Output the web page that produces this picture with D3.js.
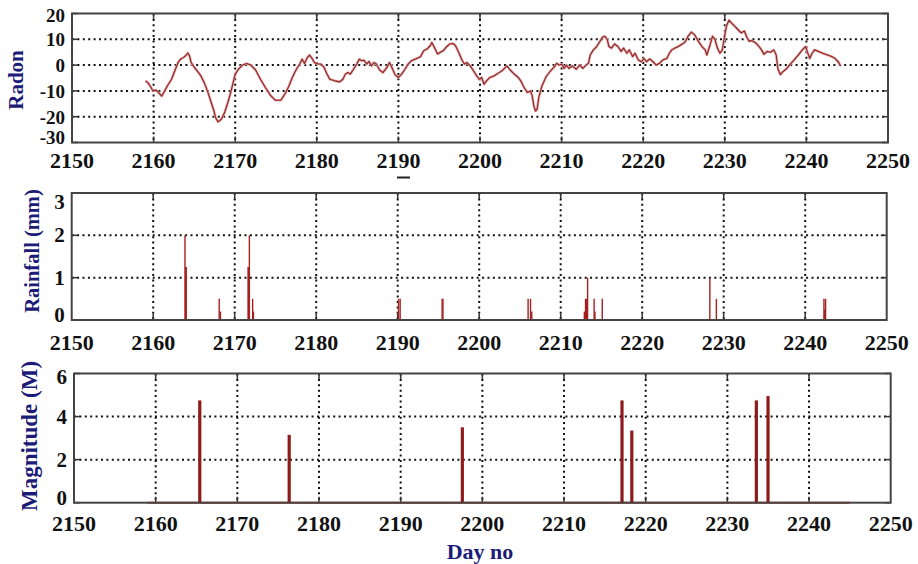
<!DOCTYPE html>
<html><head><meta charset="utf-8">
<script src="https://cdn.jsdelivr.net/npm/d3@7"></script>
<style>html,body{margin:0;padding:0;background:#fff;}svg{display:block;}</style>
</head><body>
<svg id="chart" width="918" height="564"></svg>
<script>
// ---------- DATA ----------
const xTicks = [2150, 2160, 2170, 2180, 2190, 2200, 2210, 2220, 2230, 2240, 2250];
const radonTicks = [20, 10, 0, -10, -20, -30];
const rainTicks = [0, 1, 2, 3];
const magTicks = [0, 2, 4, 6];

const radonDays = [2159.0,2159.3,2159.7,2159.9,2160.3,2160.7,2161.0,2161.3,2161.7,2162.2,2162.6,2163.0,2163.3,2163.7,2164.0,2164.2,2164.4,2164.6,2165.0,2165.5,2165.8,2166.2,2166.6,2167.0,2167.4,2167.6,2167.9,2168.3,2168.7,2169.1,2169.5,2169.8,2170.0,2170.4,2170.9,2171.4,2171.9,2172.5,2173.1,2173.7,2174.3,2174.9,2175.6,2176.2,2176.6,2177.0,2177.4,2177.9,2178.2,2178.5,2178.8,2179.1,2179.4,2179.7,2180.1,2180.5,2180.9,2181.2,2181.6,2182.2,2182.8,2183.2,2183.5,2183.8,2184.1,2184.5,2184.9,2185.2,2185.5,2185.8,2186.1,2186.4,2186.7,2187.0,2187.3,2187.7,2188.1,2188.6,2188.9,2189.2,2189.6,2190.0,2190.4,2190.8,2191.2,2191.6,2192.1,2192.7,2193.1,2193.5,2193.9,2194.1,2194.4,2194.8,2195.1,2195.5,2195.9,2196.3,2196.7,2197.0,2197.4,2197.8,2198.1,2198.4,2198.8,2199.2,2199.6,2199.9,2200.2,2200.5,2200.8,2201.2,2201.7,2202.2,2202.7,2203.3,2203.7,2204.2,2204.6,2205.0,2205.4,2205.8,2206.2,2206.4,2206.6,2206.8,2207.0,2207.2,2207.6,2208.1,2208.6,2209.1,2209.4,2209.7,2210.0,2210.3,2210.6,2210.9,2211.3,2211.8,2212.2,2212.6,2213.0,2213.3,2213.5,2213.9,2214.3,2214.7,2215.0,2215.3,2215.6,2215.8,2216.1,2216.5,2216.9,2217.3,2217.6,2218.0,2218.3,2218.7,2219.0,2219.4,2219.8,2220.1,2220.4,2220.8,2221.2,2221.6,2222.0,2222.4,2222.9,2223.2,2223.5,2223.9,2224.3,2224.7,2225.1,2225.5,2225.9,2226.3,2226.7,2226.9,2227.2,2227.6,2227.8,2228.2,2228.5,2228.8,2229.1,2229.4,2229.7,2229.9,2230.2,2230.5,2230.8,2231.2,2231.6,2232.0,2232.4,2232.7,2233.0,2233.3,2233.8,2234.2,2234.5,2234.8,2235.2,2235.6,2236.0,2236.3,2236.5,2236.8,2237.1,2237.6,2238.0,2238.5,2239.0,2239.5,2239.9,2240.1,2240.4,2240.7,2241.0,2241.5,2242.0,2242.6,2243.1,2243.5,2243.9,2244.2];
const radonValues = [-6.1,-6.8,-8.7,-10,-9.7,-11,-12,-10.3,-8,-5.5,-2.2,1,2.3,3,3.9,4.7,3.6,1,-0.9,-2.9,-4.2,-6.8,-10,-13.9,-17.8,-20.4,-22,-21,-18.4,-14.5,-10,-6.1,-3.5,-1.6,0,0.6,0,-1.9,-5.5,-8.7,-11.6,-13.6,-13.6,-10.6,-8,-4.8,-2.2,0.4,2.3,0.6,2.7,3.9,2.7,1,0.4,0.4,-0.9,-3.2,-5.5,-6.1,-6.5,-5.5,-3.5,-2.9,-3.5,-1.6,0.4,2.3,1.7,1.9,0.4,1.4,-0.3,1,0.4,-1.9,-2.9,-0.9,1,-0.9,-3.8,-4.8,-3.5,-1.6,0.4,1.7,2.4,3.2,5.6,6.2,7.5,8.8,6.9,4.3,4.9,5.6,7.1,8.2,8.4,7.5,4.9,1.9,0.4,1,-0.3,-2.2,-4.2,-5.5,-4.8,-7.4,-6.1,-4.8,-4.2,-3.2,-2.2,-0.3,-1.9,-3.5,-4.5,-6.1,-8.7,-10.6,-10,-12,-15.8,-17.8,-17.1,-12.6,-8,-4.5,-2.4,-0.7,0.7,0,0.3,-1.3,0,-1.3,-0.3,-1.6,0,-1.3,0,0.7,3.9,5.9,7.2,9.2,10.8,11.2,9.9,7.2,6.6,8.2,7.2,5.3,6.6,4.6,5.9,3.3,4.6,2,1.3,2.6,1.3,2.4,1.3,0,0.7,2,2.6,4.6,5.9,6.6,7.2,8,8.8,11.2,12.8,11.8,9.5,8.6,7.2,5.9,3.9,7.9,11.2,9.9,6.6,4.6,5.9,9.9,15.1,17.4,16.4,15.1,13.8,12.5,13.2,10.8,9.2,9.5,8.6,7.2,5.9,4.2,5.3,5,5.9,3.9,-1.3,-3.7,-2.6,-1.3,0.3,2,3.9,5.9,7.2,5.3,2.6,4.6,5.9,5.3,4.6,3.9,3.3,2.6,1.3,-0.4];

const rainDays = [2163.9,2164.0,2164.05,2168.1,2168.25,2171.65,2171.7,2171.8,2172.2,2172.3,2190.1,2190.3,2195.45,2195.55,2206.0,2206.3,2206.45,2212.9,2213.05,2213.15,2213.3,2214.1,2214.2,2215.1,2228.3,2229.1,2242.3,2242.5,2242.4];
const rainValues = [2.0,1.25,1.25,0.5,0.2,1.25,1.25,2.0,0.5,0.2,0.5,0.5,0.5,0.5,0.5,0.5,0.2,0.2,0.5,0.5,1.0,0.5,0.2,0.5,1.0,0.5,0.5,0.5,0.25];
const rainSpan = [2158.7, 2244.4];

const magDays = [2165.4, 2176.35, 2197.55, 2217.1, 2218.3, 2233.55, 2234.98];
const magValues = [4.75, 3.15, 3.5, 4.75, 3.35, 4.75, 4.95];
const magSpan = [2159.0, 2245.0];

// ---------- DRAW ----------
const svg = d3.select("#chart");
const FONT = "'Liberation Serif','Times New Roman',serif";
const NAVY = "#1c1c78";

function label(g, x, y, txt, size, anchor) {
  return g.append("text")
    .attr("x", x).attr("y", y)
    .attr("text-anchor", anchor)
    .attr("font-family", FONT).attr("font-weight", "bold")
    .attr("font-size", size).attr("fill", "#111")
    .text(txt);
}

function panel(cfg) {
  const g = svg.append("g");
  const x = d3.scaleLinear().domain([2150, 2250]).range([cfg.left, cfg.right]);
  const y = d3.scaleLinear().domain(cfg.yDomain).range([cfg.bottom, cfg.top]);
  // grid
  const grid = g.append("g").attr("stroke", "#111").attr("stroke-width", 2)
    .attr("stroke-dasharray", "2,3.4");
  xTicks.slice(1, -1).forEach(t => {
    grid.append("line").attr("x1", x(t)).attr("x2", x(t)).attr("y1", cfg.top).attr("y2", cfg.bottom);
  });
  cfg.yTicks.filter(t => t !== cfg.yDomain[0] && t !== cfg.yDomain[1]).forEach(t => {
    grid.append("line").attr("x1", cfg.left).attr("x2", cfg.right).attr("y1", y(t)).attr("y2", y(t));
  });
  // tick marks
  const tk = g.append("g").attr("stroke", "#333").attr("stroke-width", 1.5);
  xTicks.slice(1, -1).forEach(t => {
    tk.append("line").attr("x1", x(t)).attr("x2", x(t)).attr("y1", cfg.bottom).attr("y2", cfg.bottom - 6);
    tk.append("line").attr("x1", x(t)).attr("x2", x(t)).attr("y1", cfg.top).attr("y2", cfg.top + 6);
  });
  cfg.yTicks.forEach(t => {
    tk.append("line").attr("x1", cfg.left).attr("x2", cfg.left + 6).attr("y1", y(t)).attr("y2", y(t));
    tk.append("line").attr("x1", cfg.right).attr("x2", cfg.right - 6).attr("y1", y(t)).attr("y2", y(t));
  });
  // tick labels
  xTicks.forEach(t => label(g, x(t), cfg.xLabelY, String(t), 22, "middle"));
  cfg.yTicks.forEach(t => {
    let dy = 7;
    if (t === cfg.yDomain[0]) dy += cfg.lowShift;
    if (t === cfg.yDomain[1]) dy += cfg.highShift;
    label(g, cfg.left - 7, y(t) + dy, String(t), cfg.yLabelSize, "end");
  });
  // y title
  g.append("text")
    .attr("transform", `translate(${cfg.titleX},${cfg.titleY}) rotate(-90)`)
    .attr("text-anchor", "middle").attr("font-family", FONT).attr("font-weight", "bold")
    .attr("font-size", cfg.titleSize).attr("fill", NAVY).text(cfg.title);
  return {g, x, y};
}

// Radon panel
const p1 = panel({left: 72, right: 888, top: 13.5, bottom: 142.5, yDomain: [-30, 20], yTicks: radonTicks,
  lowShift: -5.5, highShift: 1, yLabelSize: 19,
  xLabelY: 168, title: "Radon", titleX: 23, titleY: 80, titleSize: 21});
const radonData = radonDays.map((d, i) => [d, radonValues[i]]);
const radonLine = d3.line().x(d => p1.x(d[0])).y(d => p1.y(d[1]));
p1.g.append("path").datum(radonData)
  .attr("fill", "none").attr("stroke", "#e2a6a6").attr("stroke-width", 2.6).attr("stroke-linejoin", "round")
  .attr("d", radonLine);
p1.g.append("path").datum(radonData)
  .attr("fill", "none").attr("stroke", "#8c2626").attr("stroke-width", 1.1).attr("stroke-linejoin", "round")
  .attr("d", radonLine);
p1.g.append("rect").attr("x", 72).attr("y", 13.5).attr("width", 816).attr("height", 129)
  .attr("fill", "none").attr("stroke", "#444").attr("stroke-width", 2);
svg.append("line").attr("x1", 397).attr("x2", 410).attr("y1", 177.5).attr("y2", 177.5)
  .attr("stroke", "#222").attr("stroke-width", 2);

// Rainfall panel
const p2 = panel({left: 71.7, right: 886.7, top: 193, bottom: 320, yDomain: [0, 3], yTicks: rainTicks,
  lowShift: -5, highShift: 9, yLabelSize: 21,
  xLabelY: 350, title: "Rainfall (mm)", titleX: 39, titleY: 251, titleSize: 20.5});
p2.g.append("line").attr("x1", p2.x(rainSpan[0])).attr("x2", p2.x(rainSpan[1]))
  .attr("y1", p2.y(0)).attr("y2", p2.y(0)).attr("stroke", "#c0392b").attr("stroke-width", 2);
p2.g.selectAll("line.rain").data(rainDays).join("line").attr("class", "rain")
  .attr("x1", d => p2.x(d)).attr("x2", d => p2.x(d))
  .attr("y1", p2.y(0)).attr("y2", (d, i) => p2.y(rainValues[i]))
  .attr("stroke", "#a52020").attr("stroke-width", 1.4);
p2.g.append("rect").attr("x", 71.7).attr("y", 193).attr("width", 815).attr("height", 127)
  .attr("fill", "none").attr("stroke", "#444").attr("stroke-width", 2);

// Magnitude panel
const p3 = panel({left: 74, right: 890.7, top: 373.5, bottom: 502.7, yDomain: [0, 6], yTicks: magTicks,
  lowShift: -5, highShift: 3, yLabelSize: 21,
  xLabelY: 531, title: "Magnitude (M)", titleX: 37, titleY: 436, titleSize: 23});
p3.g.append("line").attr("x1", p3.x(magSpan[0])).attr("x2", p3.x(magSpan[1]))
  .attr("y1", p3.y(0)).attr("y2", p3.y(0)).attr("stroke", "#c0392b").attr("stroke-width", 2);
p3.g.selectAll("line.mag").data(magDays).join("line").attr("class", "mag")
  .attr("x1", d => p3.x(d)).attr("x2", d => p3.x(d))
  .attr("y1", p3.y(0)).attr("y2", (d, i) => p3.y(magValues[i]))
  .attr("stroke", "#8e1b1b").attr("stroke-width", 3.2);
p3.g.append("rect").attr("x", 74).attr("y", 373.5).attr("width", 816.7).attr("height", 129.2)
  .attr("fill", "none").attr("stroke", "#444").attr("stroke-width", 2);

svg.append("text").attr("x", 480).attr("y", 559).attr("text-anchor", "middle")
  .attr("font-family", FONT).attr("font-weight", "bold").attr("font-size", 22).attr("fill", NAVY)
  .text("Day no");
</script>
</body></html>
